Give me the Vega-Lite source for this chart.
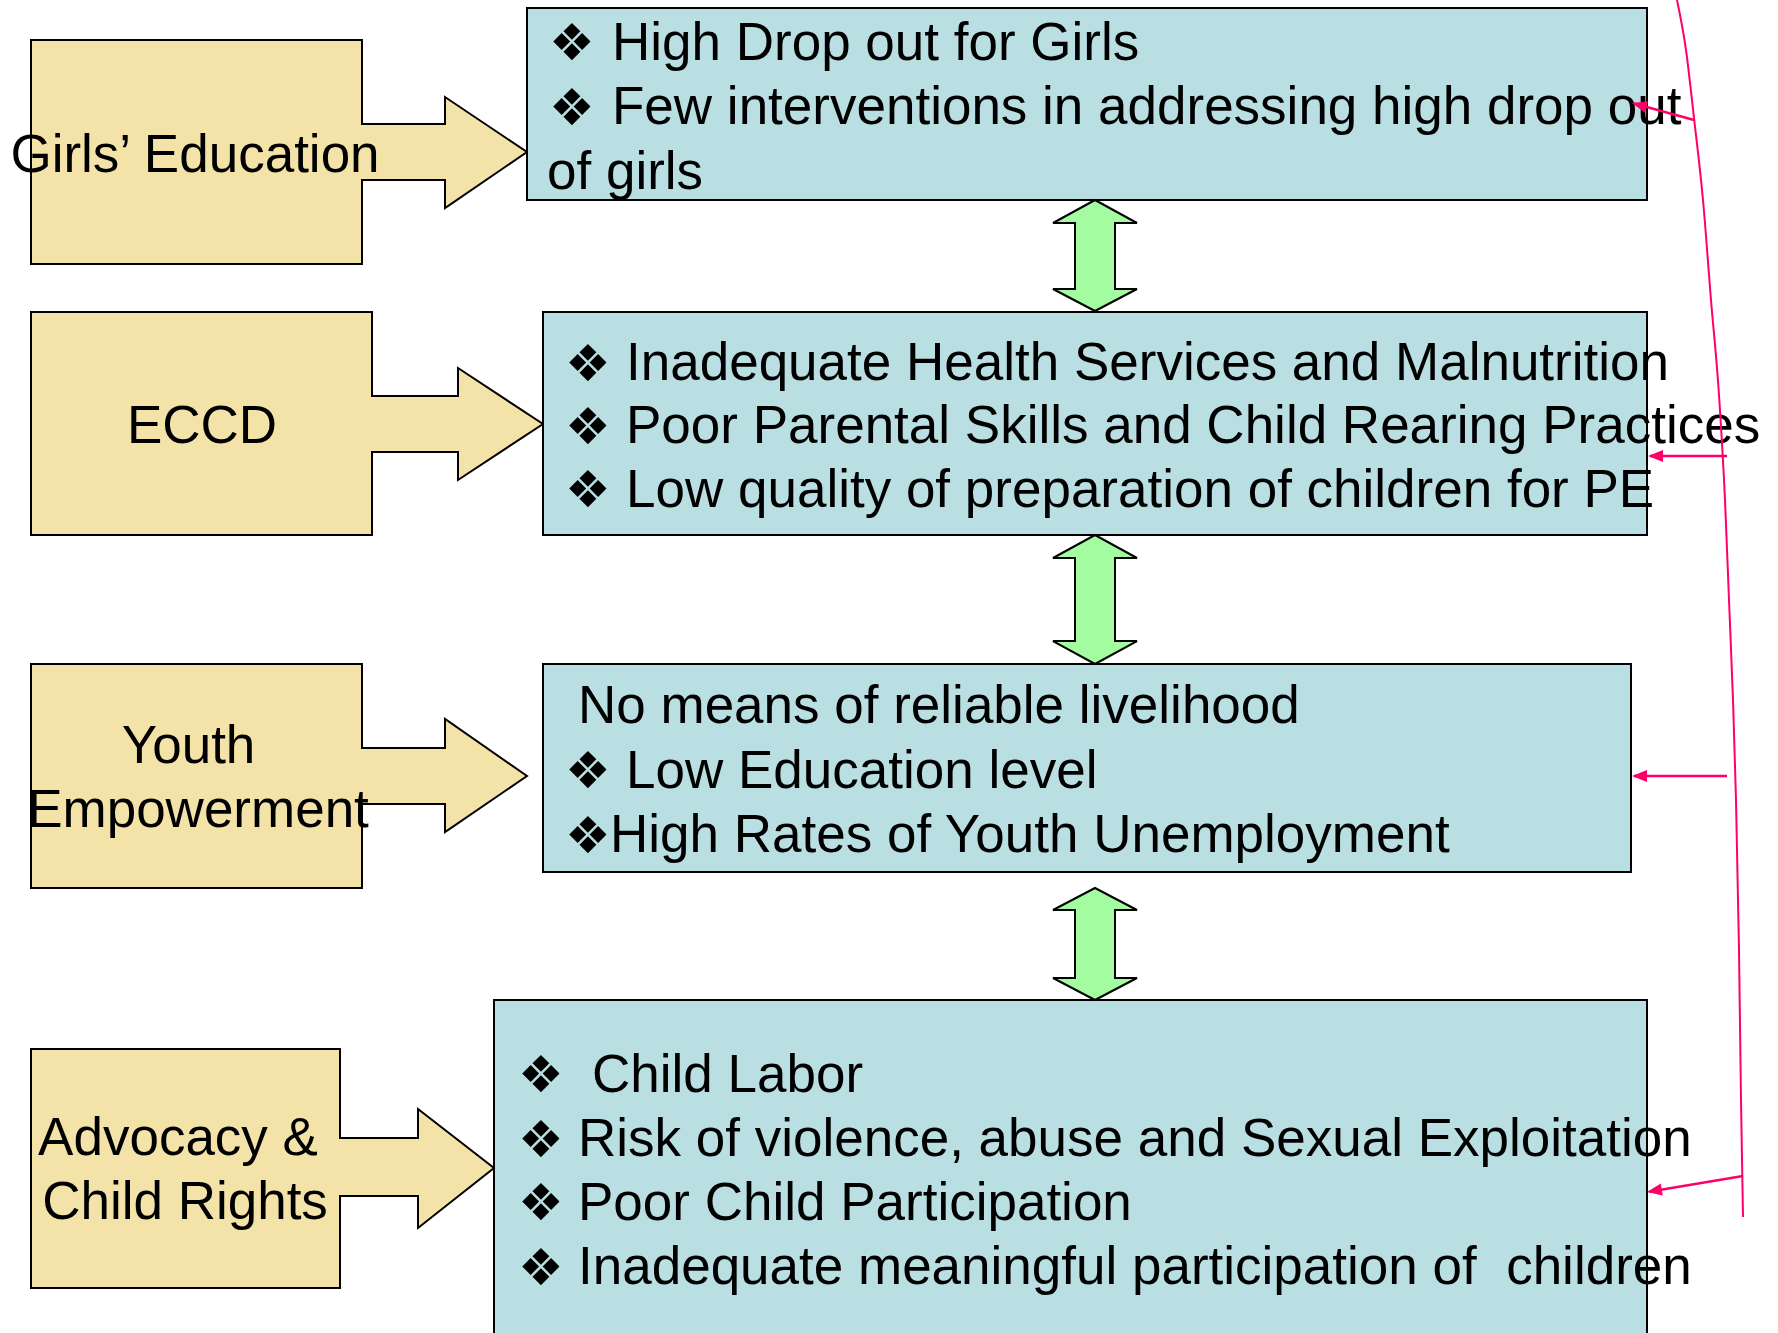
{
  "$schema": "https://vega.github.io/schema/vega-lite/v6.json",
  "width": 1778,
  "height": 1333,
  "autosize": {"type": "fit", "contains": "padding"},
  "padding": 0,
  "background": "white",
  "config": {"view": {"stroke": null}},
  "datasets": {
    "beige": [
      {"shape": "g", "x": 31, "y": 40, "y2": 264},
      {"shape": "g", "x": 362, "y": 40, "y2": 264},
      {"shape": "g", "x": 362.01, "y": 124, "y2": 180},
      {"shape": "g", "x": 445, "y": 124, "y2": 180},
      {"shape": "g", "x": 445.01, "y": 97, "y2": 208},
      {"shape": "g", "x": 527, "y": 152, "y2": 152},
      {"shape": "e", "x": 31, "y": 312, "y2": 535},
      {"shape": "e", "x": 372, "y": 312, "y2": 535},
      {"shape": "e", "x": 372.01, "y": 396, "y2": 452},
      {"shape": "e", "x": 458, "y": 396, "y2": 452},
      {"shape": "e", "x": 458.01, "y": 368, "y2": 480},
      {"shape": "e", "x": 543, "y": 424, "y2": 424},
      {"shape": "y", "x": 31, "y": 664, "y2": 888},
      {"shape": "y", "x": 362, "y": 664, "y2": 888},
      {"shape": "y", "x": 362.01, "y": 748, "y2": 804},
      {"shape": "y", "x": 445, "y": 748, "y2": 804},
      {"shape": "y", "x": 445.01, "y": 719, "y2": 832},
      {"shape": "y", "x": 527, "y": 776, "y2": 776},
      {"shape": "a", "x": 31, "y": 1049, "y2": 1288},
      {"shape": "a", "x": 340, "y": 1049, "y2": 1288},
      {"shape": "a", "x": 340.01, "y": 1138, "y2": 1196},
      {"shape": "a", "x": 418, "y": 1138, "y2": 1196},
      {"shape": "a", "x": 418.01, "y": 1109, "y2": 1228},
      {"shape": "a", "x": 494, "y": 1168, "y2": 1168}
    ],
    "blue": [
      {"x": 527, "x2": 1647, "y": 8, "y2": 200},
      {"x": 543, "x2": 1647, "y": 312, "y2": 535},
      {"x": 543, "x2": 1631, "y": 664, "y2": 872},
      {"x": 494, "x2": 1647, "y": 1000, "y2": 1350}
    ],
    "green": [
      {"arrow": 1, "y": 200, "x": 1095, "x2": 1095},
      {"arrow": 1, "y": 223, "x": 1053, "x2": 1137},
      {"arrow": 1, "y": 223.01, "x": 1075, "x2": 1115},
      {"arrow": 1, "y": 289, "x": 1075, "x2": 1115},
      {"arrow": 1, "y": 289.01, "x": 1053, "x2": 1137},
      {"arrow": 1, "y": 311, "x": 1095, "x2": 1095},
      {"arrow": 2, "y": 535, "x": 1095, "x2": 1095},
      {"arrow": 2, "y": 558, "x": 1053, "x2": 1137},
      {"arrow": 2, "y": 558.01, "x": 1075, "x2": 1115},
      {"arrow": 2, "y": 641, "x": 1075, "x2": 1115},
      {"arrow": 2, "y": 641.01, "x": 1053, "x2": 1137},
      {"arrow": 2, "y": 664, "x": 1095, "x2": 1095},
      {"arrow": 3, "y": 888, "x": 1095, "x2": 1095},
      {"arrow": 3, "y": 910, "x": 1053, "x2": 1137},
      {"arrow": 3, "y": 910.01, "x": 1075, "x2": 1115},
      {"arrow": 3, "y": 978, "x": 1075, "x2": 1115},
      {"arrow": 3, "y": 978.01, "x": 1053, "x2": 1137},
      {"arrow": 3, "y": 1000, "x": 1095, "x2": 1095}
    ],
    "curve": [
      {"i": 0, "x": 1677, "y": 0},
      {"i": 1, "x": 1686, "y": 50},
      {"i": 2, "x": 1694, "y": 118},
      {"i": 3, "x": 1703, "y": 200},
      {"i": 4, "x": 1711, "y": 300},
      {"i": 5, "x": 1719, "y": 395},
      {"i": 6, "x": 1725, "y": 500},
      {"i": 7, "x": 1729, "y": 600},
      {"i": 8, "x": 1733, "y": 700},
      {"i": 9, "x": 1736, "y": 800},
      {"i": 10, "x": 1739, "y": 950},
      {"i": 11, "x": 1741, "y": 1100},
      {"i": 12, "x": 1743, "y": 1217}
    ],
    "links": [
      {"id": 1, "i": 0, "x": 1694, "y": 120},
      {"id": 1, "i": 1, "x": 1634, "y": 103.5},
      {"id": 2, "i": 0, "x": 1727, "y": 456},
      {"id": 2, "i": 1, "x": 1650, "y": 456},
      {"id": 3, "i": 0, "x": 1727, "y": 776},
      {"id": 3, "i": 1, "x": 1634, "y": 776},
      {"id": 4, "i": 0, "x": 1743, "y": 1176},
      {"id": 4, "i": 1, "x": 1649, "y": 1191.7}
    ],
    "heads": [
      {"x": 1632, "y": 103, "ang": 15.3},
      {"x": 1648, "y": 456, "ang": 0},
      {"x": 1632, "y": 776, "ang": 0},
      {"x": 1647, "y": 1192, "ang": 350.5}
    ],
    "labels": [
      {"x": 195, "y": 171.7, "text": "Girls’ Education"},
      {"x": 202, "y": 443, "text": "ECCD"},
      {"x": 188.5, "y": 763, "text": "Youth"},
      {"x": 198, "y": 827, "text": "Empowerment"},
      {"x": 178, "y": 1155, "text": "Advocacy &"},
      {"x": 185, "y": 1219, "text": "Child Rights"}
    ],
    "lines": [
      {"x": 612, "y": 59.5, "text": "High Drop out for Girls"},
      {"x": 612, "y": 124, "text": "Few interventions in addressing high drop out"},
      {"x": 547, "y": 188.5, "text": "of girls"},
      {"x": 626, "y": 380, "text": "Inadequate Health Services and Malnutrition"},
      {"x": 626, "y": 443.3, "text": "Poor Parental Skills and Child Rearing Practices"},
      {"x": 626, "y": 506.7, "text": "Low quality of preparation of children for PE"},
      {"x": 578, "y": 723, "text": "No means of reliable livelihood"},
      {"x": 626, "y": 787.5, "text": "Low Education level"},
      {"x": 610, "y": 852, "text": "High Rates of Youth Unemployment"},
      {"x": 592, "y": 1091.5, "text": "Child Labor"},
      {"x": 578, "y": 1156, "text": "Risk of violence, abuse and Sexual Exploitation"},
      {"x": 578, "y": 1219.6, "text": "Poor Child Participation"},
      {"x": 578, "y": 1284, "text": "Inadequate meaningful participation of\u00a0 children"}
    ],
    "bullets": [
      {"x": 549, "y": 60, "text": "❖"},
      {"x": 549, "y": 124.5, "text": "❖"},
      {"x": 565, "y": 380.5, "text": "❖"},
      {"x": 565, "y": 443.8, "text": "❖"},
      {"x": 565, "y": 507.2, "text": "❖"},
      {"x": 565, "y": 788, "text": "❖"},
      {"x": 565, "y": 852.5, "text": "❖"},
      {"x": 518, "y": 1092, "text": "❖"},
      {"x": 518, "y": 1156.5, "text": "❖"},
      {"x": 518, "y": 1220, "text": "❖"},
      {"x": 518, "y": 1284.5, "text": "❖"}
    ]
  },
  "layer": [
    {
      "data": {"name": "beige"},
      "mark": {"type": "area", "orient": "vertical", "fill": "#F4E3A8", "stroke": "#000000", "strokeWidth": 2, "interpolate": "linear", "opacity": 1, "clip": true},
      "encoding": {
        "x": {"field": "x", "type": "quantitative", "scale": {"domain": [0, 1778], "nice": false, "zero": false}, "axis": null},
        "y": {"field": "y", "type": "quantitative", "scale": {"domain": [0, 1333], "nice": false, "zero": false, "reverse": true}, "axis": null, "stack": null},
        "y2": {"field": "y2"},
        "detail": {"field": "shape", "type": "nominal"}
      }
    },
    {
      "data": {"name": "blue"},
      "mark": {"type": "rect", "fill": "#BADFE3", "stroke": "#000000", "strokeWidth": 2, "clip": true},
      "encoding": {
        "x": {"field": "x", "type": "quantitative", "axis": null},
        "x2": {"field": "x2"},
        "y": {"field": "y", "type": "quantitative", "axis": null},
        "y2": {"field": "y2"}
      }
    },
    {
      "data": {"name": "green"},
      "mark": {"type": "area", "orient": "horizontal", "fill": "#A3FCA0", "stroke": "#000000", "strokeWidth": 2, "interpolate": "linear", "opacity": 1, "clip": true},
      "encoding": {
        "y": {"field": "y", "type": "quantitative", "axis": null},
        "x": {"field": "x", "type": "quantitative", "axis": null, "stack": null},
        "x2": {"field": "x2"},
        "detail": {"field": "arrow", "type": "nominal"}
      }
    },
    {
      "data": {"name": "labels"},
      "mark": {"type": "text", "align": "center", "baseline": "alphabetic", "font": "Liberation Sans", "fontSize": 53, "color": "#000000", "clip": true},
      "encoding": {
        "x": {"field": "x", "type": "quantitative", "axis": null},
        "y": {"field": "y", "type": "quantitative", "axis": null},
        "text": {"field": "text"}
      }
    },
    {
      "data": {"name": "lines"},
      "mark": {"type": "text", "align": "left", "baseline": "alphabetic", "font": "Liberation Sans", "fontSize": 53, "color": "#000000", "clip": true},
      "encoding": {
        "x": {"field": "x", "type": "quantitative", "axis": null},
        "y": {"field": "y", "type": "quantitative", "axis": null},
        "text": {"field": "text"}
      }
    },
    {
      "data": {"name": "bullets"},
      "mark": {"type": "text", "align": "left", "baseline": "alphabetic", "font": "DejaVu Sans", "fontSize": 51, "color": "#000000", "clip": true},
      "encoding": {
        "x": {"field": "x", "type": "quantitative", "axis": null},
        "y": {"field": "y", "type": "quantitative", "axis": null},
        "text": {"field": "text"}
      }
    },
    {
      "data": {"name": "curve"},
      "mark": {"type": "line", "color": "#FF0066", "strokeWidth": 2, "interpolate": "monotone", "clip": true},
      "encoding": {
        "x": {"field": "x", "type": "quantitative", "axis": null},
        "y": {"field": "y", "type": "quantitative", "axis": null},
        "order": {"field": "i", "type": "quantitative"}
      }
    },
    {
      "data": {"name": "links"},
      "mark": {"type": "line", "color": "#FF0066", "strokeWidth": 2.5, "clip": true},
      "encoding": {
        "x": {"field": "x", "type": "quantitative", "axis": null},
        "y": {"field": "y", "type": "quantitative", "axis": null},
        "detail": {"field": "id", "type": "nominal"},
        "order": {"field": "i", "type": "quantitative"}
      }
    },
    {
      "data": {"name": "heads"},
      "mark": {"type": "point", "shape": "M 0 0 L 1 -0.4 L 1 0.4 Z", "filled": true, "fill": "#FF0066", "stroke": null, "opacity": 1, "size": 900, "clip": true},
      "encoding": {
        "x": {"field": "x", "type": "quantitative", "axis": null},
        "y": {"field": "y", "type": "quantitative", "axis": null},
        "angle": {"field": "ang", "type": "quantitative", "scale": null}
      }
    }
  ]
}
